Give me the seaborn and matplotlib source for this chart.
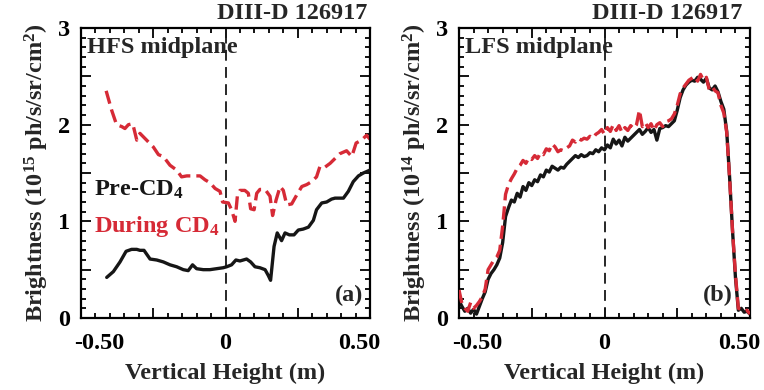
import numpy as np
import pandas as pd
import seaborn as sns
import matplotlib
matplotlib.use("Agg")
import matplotlib.pyplot as plt
import matplotlib.transforms as mtransforms
from matplotlib.ticker import MultipleLocator, FixedLocator

# ---------------- data ----------------
# Panel (a): HFS midplane
hfs_pre_x = [-0.411, -0.388, -0.365, -0.344, -0.325, -0.307, -0.296, -0.282, -0.261, -0.238,
             -0.215, -0.192, -0.169, -0.146, -0.129, -0.114, -0.100, -0.077, -0.054, -0.031,
             -0.008, 0.004, 0.021, 0.036, 0.050, 0.073, 0.087, 0.102, 0.119, 0.137,
             0.148, 0.156, 0.168, 0.179, 0.194, 0.206, 0.221, 0.237, 0.252, 0.269,
             0.287, 0.304, 0.315, 0.333, 0.350, 0.367, 0.379, 0.408, 0.425, 0.442,
             0.460, 0.477, 0.500]
hfs_pre_y = [0.42, 0.48, 0.58, 0.69, 0.71, 0.71, 0.70, 0.70, 0.61, 0.60,
             0.58, 0.55, 0.53, 0.50, 0.49, 0.55, 0.51, 0.50, 0.50, 0.51,
             0.52, 0.53, 0.55, 0.60, 0.59, 0.61, 0.58, 0.53, 0.52, 0.50,
             0.44, 0.39, 0.74, 0.88, 0.80, 0.88, 0.86, 0.86, 0.91, 0.92,
             0.94, 1.01, 1.12, 1.19, 1.20, 1.23, 1.24, 1.24, 1.31, 1.41,
             1.47, 1.50, 1.53]

hfs_dur_x = [-0.413, -0.394, -0.377, -0.359, -0.348, -0.336, -0.321, -0.307, -0.296, -0.273,
             -0.250, -0.232, -0.215, -0.192, -0.169, -0.152, -0.134, -0.111, -0.088, -0.071,
             -0.054, -0.036, -0.019, -0.010, 0.010, 0.021, 0.033, 0.041, 0.050, 0.067,
             0.079, 0.087, 0.099, 0.108, 0.119, 0.137, 0.154, 0.163, 0.175, 0.189,
             0.200, 0.212, 0.229, 0.246, 0.264, 0.281, 0.298, 0.315, 0.327, 0.344,
             0.362, 0.379, 0.396, 0.419, 0.437, 0.452, 0.471, 0.488, 0.500]
hfs_dur_y = [2.35, 2.15, 2.00, 1.98, 1.96, 2.00, 2.01, 1.84, 1.91, 1.84,
             1.77, 1.69, 1.67, 1.58, 1.53, 1.46, 1.47, 1.47, 1.47, 1.43,
             1.40, 1.34, 1.31, 1.20, 1.19, 1.12, 1.00, 1.26, 1.32, 1.32,
             1.29, 1.13, 1.12, 1.29, 1.33, 1.33, 1.26, 1.06, 1.22, 1.36,
             1.32, 1.17, 1.18, 1.27, 1.36, 1.38, 1.41, 1.46, 1.57, 1.56,
             1.60, 1.65, 1.70, 1.73, 1.67, 1.81, 1.84, 1.89, 1.85]

# Panel (b): LFS midplane (x from -0.50 to 0.50 in 0.01 steps)
lfs_x = [round(-0.50 + 0.01 * i, 2) for i in range(101)]
lfs_pre_y = [0.18, 0.12, 0.07, 0.10, 0.05, 0.09, 0.04, 0.12, 0.20, 0.27,
             0.40, 0.46, 0.50, 0.55, 0.62, 0.78, 1.05, 1.14, 1.22, 1.20,
             1.29, 1.25, 1.36, 1.32, 1.40, 1.37, 1.43, 1.41, 1.48, 1.46,
             1.53, 1.51, 1.57, 1.55, 1.53, 1.56, 1.55, 1.59, 1.62, 1.65,
             1.68, 1.66, 1.69, 1.67, 1.68, 1.71, 1.70, 1.74, 1.72, 1.76,
             1.74, 1.79, 1.76, 1.85, 1.80, 1.84, 1.78, 1.87, 1.83, 1.86,
             1.89, 1.92, 1.95, 1.90, 1.93, 1.97, 1.92, 1.95, 1.84, 1.96,
             1.97, 1.99, 1.98, 2.01, 2.04, 2.15, 2.28, 2.36, 2.41, 2.44,
             2.46, 2.45, 2.49, 2.47, 2.44, 2.48, 2.38, 2.36, 2.40, 2.34,
             2.24, 2.16, 1.93, 1.45, 0.90, 0.42, 0.08, 0.10, 0.06, 0.07,
             0.04]
lfs_dur_y = [0.29, 0.15, 0.10, 0.07, 0.16, 0.10, 0.13, 0.17, 0.22, 0.30,
             0.50, 0.55, 0.60, 0.63, 0.70, 0.95, 1.28, 1.38, 1.44, 1.49,
             1.55, 1.58, 1.63, 1.60, 1.66, 1.64, 1.68, 1.65, 1.71, 1.69,
             1.75, 1.73, 1.80, 1.77, 1.72, 1.74, 1.73, 1.76, 1.78, 1.84,
             1.82, 1.86, 1.84, 1.86, 1.85, 1.88, 1.86, 1.90, 1.92, 1.95,
             1.90, 1.97, 1.93, 2.00, 1.94, 1.99, 1.92, 1.97, 1.94, 1.99,
             1.96, 2.00, 2.15, 1.98, 2.02, 1.97, 2.01, 1.94, 2.00, 2.02,
             1.98, 2.03, 2.04, 2.06, 2.11, 2.20, 2.32, 2.38, 2.42, 2.46,
             2.48, 2.50, 2.45, 2.52, 2.46, 2.49, 2.36, 2.39, 2.35, 2.33,
             2.20, 2.12, 1.92, 1.44, 0.90, 0.45, 0.10, 0.09, 0.07, 0.08,
             0.04]

xtick_pos = [-0.5, -0.25, 0.0, 0.25, 0.5]
xtick_lab = ["-0.50", "", "0", "", "0.50"]
ytick_pos = [0, 0.5, 1, 1.5, 2, 2.5, 3]
ytick_lab = ["0", "", "1", "", "2", "", "3"]

RED = "#d62a36"
BLACK = "#161616"

# ---------------- style ----------------
sns.set_theme(style="ticks")
plt.rcParams["font.family"] = ["Liberation Serif", "DejaVu Serif"]
plt.rcParams["font.weight"] = "bold"
plt.rcParams["mathtext.fontset"] = "custom"
plt.rcParams["mathtext.rm"] = "Liberation Serif:bold"
plt.rcParams["mathtext.bf"] = "Liberation Serif:bold"
plt.rcParams["mathtext.it"] = "Liberation Serif:bold"

FS = 17.5

fig = plt.figure(figsize=(7.64, 3.90), dpi=100)
ax1 = fig.add_axes([81 / 764, 72 / 390, 289 / 764, 290 / 390])
ax2 = fig.add_axes([459 / 764, 72 / 390, 291 / 764, 290 / 390])


def style_axes(ax, exp, panel, region, title_dx, panel_x):
    ax.set_xlim(-0.5, 0.5)
    ax.set_ylim(0, 3)
    ax.axvline(0, color=BLACK, lw=1.3, ls=(0, (6, 3.5)), zorder=1)
    for s in ax.spines.values():
        s.set_linewidth(1.6)
        s.set_color("black")
    ax.xaxis.set_major_locator(FixedLocator(xtick_pos))
    ax.set_xticklabels(xtick_lab)
    ax.xaxis.set_minor_locator(MultipleLocator(0.05))
    ax.set_yticks(ytick_pos)
    ax.set_yticklabels(ytick_lab)
    ax.yaxis.set_minor_locator(MultipleLocator(0.1))
    ax.tick_params(which="both", direction="in", top=True, right=True,
                   labelsize=FS, colors="black", width=1.3)
    ax.tick_params(which="major", length=7)
    ax.tick_params(which="minor", length=3.5)
    ax.tick_params(axis="x", which="major", pad=11)
    ax.tick_params(axis="y", which="major", pad=8)
    labs = ax.get_xticklabels()
    labs[0].set_horizontalalignment("left")
    labs[0].set_transform(labs[0].get_transform() +
                          mtransforms.ScaledTranslation(-7 / 100, 0, fig.dpi_scale_trans))
    labs[-1].set_horizontalalignment("right")
    labs[-1].set_transform(labs[-1].get_transform() +
                           mtransforms.ScaledTranslation(10 / 100, 0, fig.dpi_scale_trans))
    for t in ax.get_xticklabels() + ax.get_yticklabels():
        t.set_fontweight("bold")
    ax.set_xlabel("Vertical Height (m)", fontsize=FS, fontweight="bold", labelpad=6)
    ax.set_ylabel(r"Brightness (10$^{%s}$ ph/s/sr/cm$^{2}$)" % exp,
                  fontsize=FS, fontweight="bold", labelpad=5)
    ax.text(title_dx, 1.015, "DIII-D 126917", transform=ax.transAxes, ha="right",
            va="bottom", fontsize=FS, fontweight="bold")
    ax.text(0.02, 0.97, region, transform=ax.transAxes, ha="left", va="top",
            fontsize=FS, fontweight="bold", zorder=0)
    ax.text(panel_x, 0.04, panel, transform=ax.transAxes, ha="right", va="bottom",
            fontsize=FS, fontweight="bold")


# Panel (a)
df_a_pre = pd.DataFrame({"x": hfs_pre_x, "y": hfs_pre_y})
df_a_dur = pd.DataFrame({"x": hfs_dur_x, "y": hfs_dur_y})
sns.lineplot(data=df_a_pre, x="x", y="y", ax=ax1, color=BLACK, lw=2.4,
             estimator=None, sort=False, zorder=3)
sns.lineplot(data=df_a_dur, x="x", y="y", ax=ax1, color=RED, lw=2.4,
             estimator=None, sort=False, zorder=2)
ax1.lines[-1].set_linestyle((0, (4, 1.8)))
ax1.text(-0.455, 1.27, r"Pre-CD$_{4}$", fontsize=FS, fontweight="bold",
         color=BLACK, ha="left", va="baseline")
ax1.text(-0.455, 0.89, r"During CD$_{4}$", fontsize=FS, fontweight="bold",
         color=RED, ha="left", va="baseline")
style_axes(ax1, "15", "(a)", "HFS midplane", 0.99, 0.975)

# Panel (b)
df_b_pre = pd.DataFrame({"x": lfs_x, "y": lfs_pre_y})
df_b_dur = pd.DataFrame({"x": lfs_x, "y": lfs_dur_y})
sns.lineplot(data=df_b_pre, x="x", y="y", ax=ax2, color=BLACK, lw=2.4,
             estimator=None, sort=False, zorder=2)
sns.lineplot(data=df_b_dur, x="x", y="y", ax=ax2, color=RED, lw=2.4,
             estimator=None, sort=False, zorder=3)
ax2.lines[-1].set_linestyle((0, (4, 1.8)))
style_axes(ax2, "14", "(b)", "LFS midplane", 0.975, 0.94)

fig.savefig("out.png", dpi=100)
